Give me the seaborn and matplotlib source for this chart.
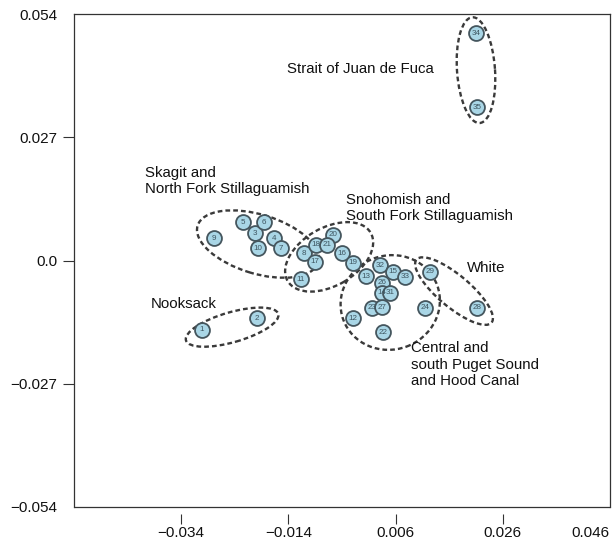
import matplotlib
matplotlib.use("Agg")
import matplotlib.pyplot as plt
import matplotlib.transforms as mtrans
from matplotlib.patches import Ellipse
import seaborn as sns
import pandas as pd

# ---- data ----
site_ids = [1, 2, 3, 4, 5, 6, 7, 9, 10,
            8, 11, 16, 17, 18, 19, 20, 21,
            13, 32, 15, 33, 26, 14, 31, 23, 27, 12, 22, 24,
            29, 28, 34, 35]
axis1 = [-0.0301, -0.0199, -0.0202, -0.0167, -0.0225, -0.0186, -0.0154, -0.0279, -0.0197,
         -0.0111, -0.0117, -0.0040, -0.0090, -0.0089, -0.0020, -0.0057, -0.0068,
         0.0005, 0.0031, 0.0055, 0.0078, 0.0035, 0.0035, 0.0050, 0.0016, 0.0035, -0.0020, 0.0036, 0.0115,
         0.0124, 0.0212, 0.0210, 0.0212]
axis2 = [-0.0152, -0.0126, 0.0060, 0.0049, 0.0084, 0.0084, 0.0027, 0.0049, 0.0027,
         0.0016, -0.0041, 0.0016, -0.0003, 0.0034, -0.0005, 0.0056, 0.0034,
         -0.0034, -0.0010, -0.0025, -0.0036, -0.0049, -0.0071, -0.0071, -0.0104, -0.0102, -0.0126, -0.0157, -0.0104,
         -0.0025, -0.0104, 0.0498, 0.0336]

group_names = ["Nooksack", "Skagit and\nNorth Fork Stillaguamish",
               "Snohomish and\nSouth Fork Stillaguamish",
               "Central and\nsouth Puget Sound\nand Hood Canal",
               "White", "Strait of Juan de Fuca"]
label_x = [-0.0396, -0.0408, -0.0033, 0.0089, 0.0193, -0.0143]
label_y = [-0.0095, 0.0174, 0.0115, -0.0228, -0.0016, 0.0420]
# group ellipses: centre (data), size (inches), angle (deg, on screen)
ell_cx = [-0.0245, -0.0197, -0.0064, 0.0050, 0.0169, 0.0210]
ell_cy = [-0.0146, 0.0036, 0.0008, -0.0092, -0.0067, 0.0417]
ell_w = [0.96, 1.26, 0.96, 1.00, 0.98, 1.06]
ell_h = [0.30, 0.59, 0.58, 0.94, 0.32, 0.38]
ell_ang = [16, -17, 30, 20, -40, 94]

x_ticks = [-0.034, -0.014, 0.006, 0.026, 0.046]
x_ticklabels = ["\u22120.034", "\u22120.014", "0.006", "0.026", "0.046"]
y_ticks = [-0.054, -0.027, 0.0, 0.027, 0.054]
y_ticklabels = ["\u22120.054", "\u22120.027", "0.0", "0.027", "0.054"]

df = pd.DataFrame({"id": site_ids, "x": axis1, "y": axis2})

sns.set_style("white")
plt.rcParams["font.family"] = ["Liberation Sans", "DejaVu Sans"]

fig = plt.figure(figsize=(6.15, 5.44), dpi=100)
ax = fig.add_axes([74 / 615, 1 - 507 / 544, 536 / 615, 493 / 544])

dark = "#333333"
for (cx, cy, w, h, a) in zip(ell_cx, ell_cy, ell_w, ell_h, ell_ang):
    tr = fig.dpi_scale_trans + mtrans.ScaledTranslation(cx, cy, ax.transData)
    e = Ellipse((0, 0), w, h, angle=a, transform=tr, fill=False,
                edgecolor="#3a3a3a", lw=1.7, linestyle=(0, (2.0, 1.3)), zorder=2)
    ax.add_patch(e)

sns.scatterplot(data=df, x="x", y="y", ax=ax, s=115, color="#a9d6e6",
                edgecolor="#45565e", linewidth=1.3, zorder=3, legend=False)
for i, xx, yy in zip(site_ids, axis1, axis2):
    ax.text(xx, yy, str(i), ha="center", va="center", fontsize=5.8,
            color="#3d5560", zorder=4)

for name, tx, ty in zip(group_names, label_x, label_y):
    ax.text(tx, ty, name, ha="left", va="center", fontsize=10.8,
            color="#111111", linespacing=1.2, zorder=5)

ax.set_xlim(-0.054, 0.046)
ax.set_ylim(-0.054, 0.054)
ax.set_xticks(x_ticks)
ax.set_xticklabels(x_ticklabels)
ax.set_yticks(y_ticks)
ax.set_yticklabels(y_ticklabels)
ax.set_xlabel("")
ax.set_ylabel("")

for side in ["top", "left", "right"]:
    ax.spines[side].set_visible(True)
    ax.spines[side].set_color(dark)
    ax.spines[side].set_linewidth(0.9)
ax.spines["bottom"].set_position(("outward", 5))
ax.spines["bottom"].set_visible(False)
ax.plot([0, 1], [0, 0], transform=ax.transAxes, color=dark, lw=0.9,
        clip_on=False, zorder=6)

ax.tick_params(axis="both", direction="out", length=8, width=0.8,
               color=dark, labelsize=11, labelcolor="#111111")
ax.tick_params(axis="x", pad=1.5, bottom=True, length=7)
ax.tick_params(axis="y", pad=4, left=True)
xt = ax.xaxis.get_major_ticks()
xt[-1].tick1line.set_visible(False)
xt[-1].label1.set_horizontalalignment("right")
yt = ax.yaxis.get_major_ticks()
yt[0].tick1line.set_visible(False)
yt[-1].tick1line.set_visible(False)

fig.savefig("out.png", dpi=100)
